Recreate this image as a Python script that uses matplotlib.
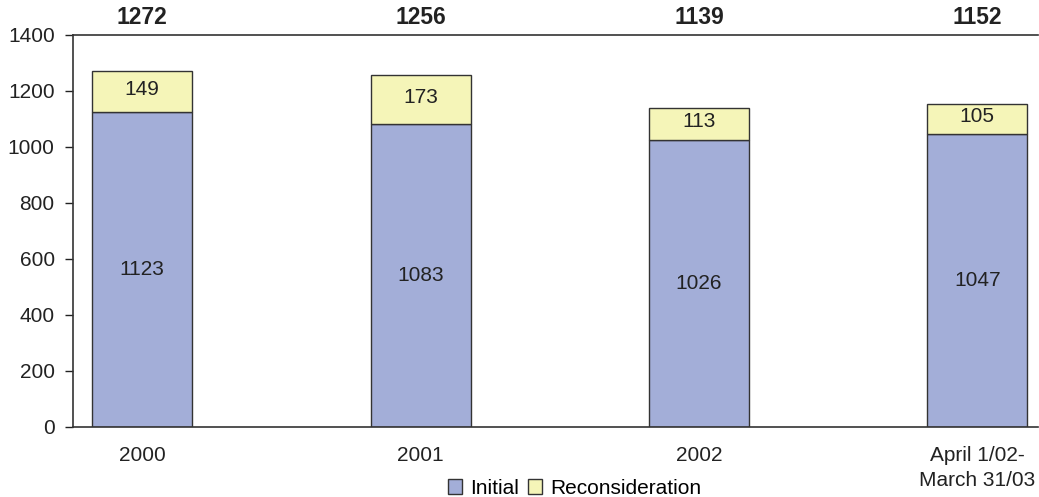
import matplotlib.pyplot as plt

# data
periods = ["2000", "2001", "2002", "April 1/02-\nMarch 31/03"]
initial = [1123, 1083, 1026, 1047]
reconsideration = [149, 173, 113, 105]
totals = [1272, 1256, 1139, 1152]

plt.rcParams['font.family'] = ['Liberation Sans', 'DejaVu Sans']

fig = plt.figure(figsize=(10.39, 4.97), dpi=100)
ax = fig.add_axes([0.070, 0.141, 0.929, 0.789])

x = list(range(len(periods)))
azul = "#A3AED8"
amarelo = "#F5F5B8"
borda = "#333333"

ax.bar(x, initial, width=0.36, color=azul, edgecolor=borda, linewidth=1, label="Initial")
ax.bar(x, reconsideration, width=0.36, bottom=initial, color=amarelo,
       edgecolor=borda, linewidth=1, label="Reconsideration")

for i in x:
    ax.text(i, initial[i] / 2, str(initial[i]), ha="center", va="center",
            fontsize=15, color="#222222")
    ax.text(i, initial[i] + reconsideration[i] / 2 + 8, str(reconsideration[i]),
            ha="center", va="center", fontsize=15, color="#222222")
    ax.text(i, 1462, str(totals[i]), ha="center", va="center", fontsize=16.5,
            fontweight="bold", color="#222222")

ax.set_ylim(0, 1400)
ax.set_xlim(-0.25, 3.218)
ax.set_yticks(range(0, 1401, 200))
ax.set_xticks(x)
ax.set_xticklabels(periods, linespacing=1.35)
ax.tick_params(axis="x", length=0, pad=14, labelsize=15, colors="#222222")
ax.tick_params(axis="y", length=6, width=1, labelsize=15, colors="#222222",
               direction="out", pad=7)
ax.spines["right"].set_visible(False)
for s in ["left", "top", "bottom"]:
    ax.spines[s].set_color("#333333")
    ax.spines[s].set_linewidth(1.2)

ax.legend(loc="upper center", bbox_to_anchor=(0.52, -0.095), ncol=2, frameon=False,
          fontsize=15, handlelength=0.7, handleheight=0.7, handletextpad=0.4,
          columnspacing=0.4, borderpad=0.2)

plt.savefig("out.png", dpi=100)
